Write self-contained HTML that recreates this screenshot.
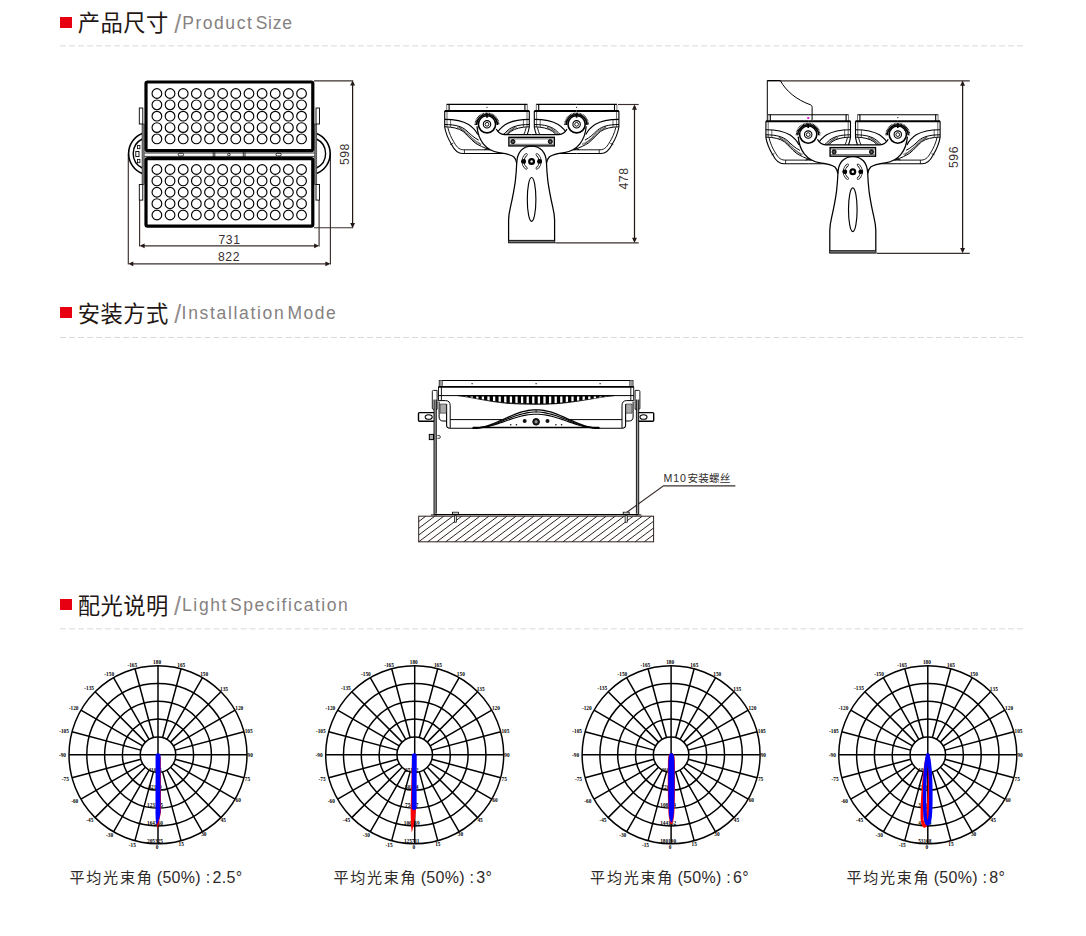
<!DOCTYPE html>
<html lang="zh-CN">
<head>
<meta charset="utf-8">
<title>产品尺寸 / 安装方式 / 配光说明</title>
<style>
html,body{margin:0;padding:0;background:#fff;}
body{width:1086px;height:936px;position:relative;overflow:hidden;font-family:"Liberation Sans","Noto Sans CJK SC",sans-serif;}
.sec{position:absolute;left:0;width:1086px;}
.sec h2{position:absolute;left:0;top:0;margin:0;font-weight:400;white-space:nowrap;line-height:1;width:400px;height:40px;}
.sec h2 span{position:absolute;white-space:nowrap;line-height:1;}
.sq{left:60.2px;width:11.9px;height:11.2px;background:#e60012;}
.cn{left:77.7px;font-size:22.3px;letter-spacing:0.5px;color:#1f1714;}
.en{font-size:17.5px;color:#858180;}
.sec h2 span.sl{font-size:25px;color:#928e8d;}
svg{position:absolute;left:0;overflow:visible;}
.dim{font-family:"Liberation Sans",sans-serif;font-size:12.2px;fill:#3b302f;letter-spacing:0.5px;}
.cap{font-family:"Liberation Sans","Noto Sans CJK SC",sans-serif;font-size:16px;fill:#2e2a29;}
.lbl{font-family:"Liberation Sans","Noto Sans CJK SC",sans-serif;font-size:10.6px;fill:#2e2a29;}
.pl{font-family:"Liberation Serif",serif;font-weight:700;font-size:5.3px;fill:#000;text-anchor:middle;}
</style>
</head>
<body>
<section class="sec" style="top:0;height:290px">
<h2><span class="sq" style="top:16.5px"></span><span class="cn" style="top:12.9px">产品尺寸</span><span class="en sl" style="left:174.2px;top:11.9px">/</span><span class="en" style="left:182.2px;top:14.7px;letter-spacing:1.55px">Product </span><span class="en" style="left:255.7px;top:14.7px;letter-spacing:0.73px">Size</span></h2>
<svg style="top:0" width="1086" height="290" viewBox="0 0 1086 290" fill="none" stroke="#000" stroke-width="1">
<line x1="60" y1="45.85" x2="1024" y2="45.85" stroke="#d9d9d9" stroke-width="1" stroke-dasharray="6 3.03"/>
<g id="front-view">
<line x1="128.3" y1="154" x2="128.3" y2="264.4" stroke="#3a2f2d" stroke-width="1.15"/>
<line x1="330.4" y1="154" x2="330.4" y2="264.4" stroke="#3a2f2d" stroke-width="1.15"/>
<line x1="139.6" y1="200" x2="139.6" y2="246.4" stroke="#3a2f2d" stroke-width="1.15"/>
<line x1="319.1" y1="200" x2="319.1" y2="246.4" stroke="#3a2f2d" stroke-width="1.15"/>
<line x1="314" y1="80.85" x2="353.2" y2="80.85" stroke="#3a2f2d" stroke-width="1.15"/>
<line x1="314" y1="227.7" x2="353.2" y2="227.7" stroke="#3a2f2d" stroke-width="1.15"/>
<line x1="141.6" y1="245.8" x2="317.1" y2="245.8" stroke="#3a2f2d" stroke-width="1.2"/>
<polygon points="139.6,245.8 144.6,243.4 144.6,248.2" fill="#231815" stroke="none"/>
<polygon points="319.1,245.8 314.1,243.4 314.1,248.2" fill="#231815" stroke="none"/>
<line x1="130.3" y1="263.8" x2="328.4" y2="263.8" stroke="#3a2f2d" stroke-width="1.2"/>
<polygon points="128.3,263.8 133.3,261.4 133.3,266.2" fill="#231815" stroke="none"/>
<polygon points="330.4,263.8 325.4,261.4 325.4,266.2" fill="#231815" stroke="none"/>
<line x1="352.6" y1="82.4" x2="352.6" y2="226.2" stroke="#231815" stroke-width="1.25"/>
<polygon points="352.6,80.4 350.15,85.6 355.05,85.6" fill="#231815" stroke="none"/>
<polygon points="352.6,228.2 350.15,223 355.05,223" fill="#231815" stroke="none"/>
<text class="dim" stroke="none" text-anchor="middle" x="229.5" y="243.8">731</text>
<text class="dim" stroke="none" text-anchor="middle" x="229" y="260.9">822</text>
<text class="dim" stroke="none" text-anchor="middle" transform="translate(349.1 154.1) rotate(-90)">598</text>
<path d="M142.3,133.5 A21.45,21.45 0 0 0 142.3,173.5" stroke="#000" stroke-width="1.6"/>
<path d="M142.3,139 A16.1,16.1 0 0 0 142.3,168" stroke="#000" stroke-width="1.4"/>
<rect x="135.8" y="151.5" width="3.2" height="5" stroke-width="0.9"/>
<rect x="137.5" y="145.5" width="2.4" height="3.2" stroke-width="0.8"/>
<rect x="137.5" y="159.5" width="2.4" height="3.2" stroke-width="0.8"/>
<rect x="142" y="124" width="2.2" height="60.5" fill="#777" stroke="#222" stroke-width="0.5"/>
<rect x="139.3" y="108" width="3.5" height="16" fill="#fff" stroke-width="0.9"/>
<rect x="139.3" y="184.5" width="3.5" height="15.6" fill="#fff" stroke-width="0.9"/>
<path d="M316.5,133.5 A21.45,21.45 0 0 1 316.5,173.5" stroke="#000" stroke-width="1.6"/>
<path d="M316.5,139 A16.1,16.1 0 0 1 316.5,168" stroke="#000" stroke-width="1.4"/>
<rect x="314.6" y="124" width="2.2" height="60.5" fill="#777" stroke="#222" stroke-width="0.5"/>
<rect x="316" y="108" width="3.5" height="16" fill="#fff" stroke-width="0.9"/>
<rect x="316" y="184.5" width="3.5" height="15.6" fill="#fff" stroke-width="0.9"/>
<g stroke-width="0.8">
<rect x="178.3" y="153.2" width="5.2" height="2.8" rx="1.2"/>
<rect x="276" y="153.2" width="5.2" height="2.8" rx="1.2"/>
<path d="M213.2,152.3V157.1M214.8,152.3V157.1M243.3,152.3V157.1M245,152.3V157.1M144.4,153H314.4M144.4,156.4H314.4"/>
<circle cx="228.9" cy="154.6" r="1.3"/>
</g>
<rect x="146" y="82" width="166.8" height="68.7" rx="1.6" fill="#fff" stroke="#000" stroke-width="3.2"/>
<rect x="146" y="158.7" width="166.8" height="67.4" rx="1.6" fill="#fff" stroke="#000" stroke-width="3.2"/>
<g stroke="#000" stroke-width="1.15">
<circle cx="156.9" cy="93.5" r="4.85"/><circle cx="170.05" cy="93.5" r="4.85"/><circle cx="183.2" cy="93.5" r="4.85"/><circle cx="196.35" cy="93.5" r="4.85"/><circle cx="209.5" cy="93.5" r="4.85"/><circle cx="222.65" cy="93.5" r="4.85"/><circle cx="235.8" cy="93.5" r="4.85"/><circle cx="248.95" cy="93.5" r="4.85"/><circle cx="262.1" cy="93.5" r="4.85"/><circle cx="275.25" cy="93.5" r="4.85"/><circle cx="288.4" cy="93.5" r="4.85"/><circle cx="301.55" cy="93.5" r="4.85"/>
<circle cx="156.9" cy="104.85" r="4.85"/><circle cx="170.05" cy="104.85" r="4.85"/><circle cx="183.2" cy="104.85" r="4.85"/><circle cx="196.35" cy="104.85" r="4.85"/><circle cx="209.5" cy="104.85" r="4.85"/><circle cx="222.65" cy="104.85" r="4.85"/><circle cx="235.8" cy="104.85" r="4.85"/><circle cx="248.95" cy="104.85" r="4.85"/><circle cx="262.1" cy="104.85" r="4.85"/><circle cx="275.25" cy="104.85" r="4.85"/><circle cx="288.4" cy="104.85" r="4.85"/><circle cx="301.55" cy="104.85" r="4.85"/>
<circle cx="156.9" cy="116.2" r="4.85"/><circle cx="170.05" cy="116.2" r="4.85"/><circle cx="183.2" cy="116.2" r="4.85"/><circle cx="196.35" cy="116.2" r="4.85"/><circle cx="209.5" cy="116.2" r="4.85"/><circle cx="222.65" cy="116.2" r="4.85"/><circle cx="235.8" cy="116.2" r="4.85"/><circle cx="248.95" cy="116.2" r="4.85"/><circle cx="262.1" cy="116.2" r="4.85"/><circle cx="275.25" cy="116.2" r="4.85"/><circle cx="288.4" cy="116.2" r="4.85"/><circle cx="301.55" cy="116.2" r="4.85"/>
<circle cx="156.9" cy="127.55" r="4.85"/><circle cx="170.05" cy="127.55" r="4.85"/><circle cx="183.2" cy="127.55" r="4.85"/><circle cx="196.35" cy="127.55" r="4.85"/><circle cx="209.5" cy="127.55" r="4.85"/><circle cx="222.65" cy="127.55" r="4.85"/><circle cx="235.8" cy="127.55" r="4.85"/><circle cx="248.95" cy="127.55" r="4.85"/><circle cx="262.1" cy="127.55" r="4.85"/><circle cx="275.25" cy="127.55" r="4.85"/><circle cx="288.4" cy="127.55" r="4.85"/><circle cx="301.55" cy="127.55" r="4.85"/>
<circle cx="156.9" cy="138.9" r="4.85"/><circle cx="170.05" cy="138.9" r="4.85"/><circle cx="183.2" cy="138.9" r="4.85"/><circle cx="196.35" cy="138.9" r="4.85"/><circle cx="209.5" cy="138.9" r="4.85"/><circle cx="222.65" cy="138.9" r="4.85"/><circle cx="235.8" cy="138.9" r="4.85"/><circle cx="248.95" cy="138.9" r="4.85"/><circle cx="262.1" cy="138.9" r="4.85"/><circle cx="275.25" cy="138.9" r="4.85"/><circle cx="288.4" cy="138.9" r="4.85"/><circle cx="301.55" cy="138.9" r="4.85"/>
<circle cx="156.9" cy="169.5" r="4.85"/><circle cx="170.05" cy="169.5" r="4.85"/><circle cx="183.2" cy="169.5" r="4.85"/><circle cx="196.35" cy="169.5" r="4.85"/><circle cx="209.5" cy="169.5" r="4.85"/><circle cx="222.65" cy="169.5" r="4.85"/><circle cx="235.8" cy="169.5" r="4.85"/><circle cx="248.95" cy="169.5" r="4.85"/><circle cx="262.1" cy="169.5" r="4.85"/><circle cx="275.25" cy="169.5" r="4.85"/><circle cx="288.4" cy="169.5" r="4.85"/><circle cx="301.55" cy="169.5" r="4.85"/>
<circle cx="156.9" cy="180.88" r="4.85"/><circle cx="170.05" cy="180.88" r="4.85"/><circle cx="183.2" cy="180.88" r="4.85"/><circle cx="196.35" cy="180.88" r="4.85"/><circle cx="209.5" cy="180.88" r="4.85"/><circle cx="222.65" cy="180.88" r="4.85"/><circle cx="235.8" cy="180.88" r="4.85"/><circle cx="248.95" cy="180.88" r="4.85"/><circle cx="262.1" cy="180.88" r="4.85"/><circle cx="275.25" cy="180.88" r="4.85"/><circle cx="288.4" cy="180.88" r="4.85"/><circle cx="301.55" cy="180.88" r="4.85"/>
<circle cx="156.9" cy="192.26" r="4.85"/><circle cx="170.05" cy="192.26" r="4.85"/><circle cx="183.2" cy="192.26" r="4.85"/><circle cx="196.35" cy="192.26" r="4.85"/><circle cx="209.5" cy="192.26" r="4.85"/><circle cx="222.65" cy="192.26" r="4.85"/><circle cx="235.8" cy="192.26" r="4.85"/><circle cx="248.95" cy="192.26" r="4.85"/><circle cx="262.1" cy="192.26" r="4.85"/><circle cx="275.25" cy="192.26" r="4.85"/><circle cx="288.4" cy="192.26" r="4.85"/><circle cx="301.55" cy="192.26" r="4.85"/>
<circle cx="156.9" cy="203.64" r="4.85"/><circle cx="170.05" cy="203.64" r="4.85"/><circle cx="183.2" cy="203.64" r="4.85"/><circle cx="196.35" cy="203.64" r="4.85"/><circle cx="209.5" cy="203.64" r="4.85"/><circle cx="222.65" cy="203.64" r="4.85"/><circle cx="235.8" cy="203.64" r="4.85"/><circle cx="248.95" cy="203.64" r="4.85"/><circle cx="262.1" cy="203.64" r="4.85"/><circle cx="275.25" cy="203.64" r="4.85"/><circle cx="288.4" cy="203.64" r="4.85"/><circle cx="301.55" cy="203.64" r="4.85"/>
<circle cx="156.9" cy="215.02" r="4.85"/><circle cx="170.05" cy="215.02" r="4.85"/><circle cx="183.2" cy="215.02" r="4.85"/><circle cx="196.35" cy="215.02" r="4.85"/><circle cx="209.5" cy="215.02" r="4.85"/><circle cx="222.65" cy="215.02" r="4.85"/><circle cx="235.8" cy="215.02" r="4.85"/><circle cx="248.95" cy="215.02" r="4.85"/><circle cx="262.1" cy="215.02" r="4.85"/><circle cx="275.25" cy="215.02" r="4.85"/><circle cx="288.4" cy="215.02" r="4.85"/><circle cx="301.55" cy="215.02" r="4.85"/>
</g>
</g>
<g id="side-view">
<line x1="618" y1="104.5" x2="638.7" y2="104.5" stroke="#3a2f2d" stroke-width="1.15"/>
<line x1="555.4" y1="242.9" x2="638.7" y2="242.9" stroke="#3a2f2d" stroke-width="1.15"/>
<line x1="634.5" y1="106.5" x2="634.5" y2="240.9" stroke="#231815" stroke-width="1.25"/>
<polygon points="634.5,104.5 632.05,109.7 636.95,109.7" fill="#231815" stroke="none"/>
<polygon points="634.5,242.9 632.05,237.7 636.95,237.7" fill="#231815" stroke="none"/>
<text class="dim" stroke="none" text-anchor="middle" transform="translate(627.8 178.5) rotate(-90)">478</text>
<g transform="translate(0 0)">
<path d="M576.6,104.4H617" stroke-width="1.1"/>
<path d="M614.5,104.2V110.9" stroke-width="1.1"/>
<path d="M616.9,104.4V110.9" stroke-width="0.8" stroke="#555"/>
<path d="M576.6,110.9H618.9" stroke-width="2"/>
<path d="M618.9,110.9V127C617.8,134 614.5,140.5 611.8,145C609,150.5 606,153.5 601,153.5H576.6" stroke-width="1.1"/>
<path d="M616.6,110.9V127" stroke-width="0.6"/>
<path d="M615.8,127.5C614.5,133 612,138.5 610,141.5C607.5,146 605,149.8 600,149.8H576.6" stroke-width="0.9"/>
<path d="M599.2,149.8V153.5M610.4,143.4L613.3,144.5" stroke-width="0.8"/>
<path d="M618.9,119.4C608,119.4 600.5,121.2 595,124.5C590.8,127.3 587.6,131 585.8,134.6" stroke-width="1.1"/>
<path d="M618.9,124.5C608,124.6 602.3,126.4 597.7,130C594,133.5 590,137.6 584.9,140.1" stroke-width="1"/>
<path d="M618.9,126.8C611,127 605.1,128.3 600.5,131.4C596.8,134.5 593.1,139.2 588.5,142.9C585,145.3 580,147.5 574,149.8" stroke-width="1"/>
<path d="M606,127.2C601,128.8 597.5,132.3 594.8,135.3C591.5,139 588,142 582.5,144.3" stroke-width="1.9" stroke="#222" stroke-dasharray="0.75 0.55"/>
<path d="M613,119.4V127" stroke-width="0.6"/>
<path d="M576.6,104.4H536.2" stroke-width="1.1"/>
<path d="M538.7,104.2V110.9" stroke-width="1.1"/>
<path d="M536.3,104.4V110.9" stroke-width="0.8" stroke="#555"/>
<path d="M576.6,110.9H534.3" stroke-width="2"/>
<path d="M534.3,110.9V127C535.4,134 538.7,140.5 541.4,145C544.2,150.5 547.2,153.5 552.2,153.5H576.6" stroke-width="1.1"/>
<path d="M536.6,110.9V127" stroke-width="0.6"/>
<path d="M537.4,127.5C538.7,133 541.2,138.5 543.2,141.5C545.7,146 548.2,149.8 553.2,149.8H576.6" stroke-width="0.9"/>
<path d="M554,149.8V153.5M542.8,143.4L539.9,144.5" stroke-width="0.8"/>
<path d="M534.3,119.4C545.2,119.4 552.7,121.2 558.2,124.5C562.4,127.3 565.6,131 567.4,134.6" stroke-width="1.1"/>
<path d="M534.3,124.5C545.2,124.6 550.9,126.4 555.5,130C559.2,133.5 563.2,137.6 568.3,140.1" stroke-width="1"/>
<path d="M534.3,126.8C542.2,127 548.1,128.3 552.7,131.4C556.4,134.5 560.1,139.2 564.7,142.9C568.2,145.3 573.2,147.5 579.2,149.8" stroke-width="1"/>
<path d="M547.2,127.2C552.2,128.8 555.7,132.3 558.4,135.3C561.7,139 565.2,142 570.7,144.3" stroke-width="1.9" stroke="#222" stroke-dasharray="0.75 0.55"/>
<path d="M540.2,119.4V127" stroke-width="0.6"/>
<circle cx="576.6" cy="107.3" r="0.6" fill="#000" stroke="none"/>
<path d="M487,104.4H527.4" stroke-width="1.1"/>
<path d="M524.9,104.2V110.9" stroke-width="1.1"/>
<path d="M527.3,104.4V110.9" stroke-width="0.8" stroke="#555"/>
<path d="M487,110.9H529.3" stroke-width="2"/>
<path d="M529.3,110.9V127C528.2,134 524.9,140.5 522.2,145C519.4,150.5 516.4,153.5 511.4,153.5H487" stroke-width="1.1"/>
<path d="M527,110.9V127" stroke-width="0.6"/>
<path d="M526.2,127.5C524.9,133 522.4,138.5 520.4,141.5C517.9,146 515.4,149.8 510.4,149.8H487" stroke-width="0.9"/>
<path d="M509.6,149.8V153.5M520.8,143.4L523.7,144.5" stroke-width="0.8"/>
<path d="M529.3,119.4C518.4,119.4 510.9,121.2 505.4,124.5C501.2,127.3 498,131 496.2,134.6" stroke-width="1.1"/>
<path d="M529.3,124.5C518.4,124.6 512.7,126.4 508.1,130C504.4,133.5 500.4,137.6 495.3,140.1" stroke-width="1"/>
<path d="M529.3,126.8C521.4,127 515.5,128.3 510.9,131.4C507.2,134.5 503.5,139.2 498.9,142.9C495.4,145.3 490.4,147.5 484.4,149.8" stroke-width="1"/>
<path d="M516.4,127.2C511.4,128.8 507.9,132.3 505.2,135.3C501.9,139 498.4,142 492.9,144.3" stroke-width="1.9" stroke="#222" stroke-dasharray="0.75 0.55"/>
<path d="M523.4,119.4V127" stroke-width="0.6"/>
<path d="M487,104.4H446.6" stroke-width="1.1"/>
<path d="M449.1,104.2V110.9" stroke-width="1.1"/>
<path d="M446.7,104.4V110.9" stroke-width="0.8" stroke="#555"/>
<path d="M487,110.9H444.7" stroke-width="2"/>
<path d="M444.7,110.9V127C445.8,134 449.1,140.5 451.8,145C454.6,150.5 457.6,153.5 462.6,153.5H487" stroke-width="1.1"/>
<path d="M447,110.9V127" stroke-width="0.6"/>
<path d="M447.8,127.5C449.1,133 451.6,138.5 453.6,141.5C456.1,146 458.6,149.8 463.6,149.8H487" stroke-width="0.9"/>
<path d="M464.4,149.8V153.5M453.2,143.4L450.3,144.5" stroke-width="0.8"/>
<path d="M444.7,119.4C455.6,119.4 463.1,121.2 468.6,124.5C472.8,127.3 476,131 477.8,134.6" stroke-width="1.1"/>
<path d="M444.7,124.5C455.6,124.6 461.3,126.4 465.9,130C469.6,133.5 473.6,137.6 478.7,140.1" stroke-width="1"/>
<path d="M444.7,126.8C452.6,127 458.5,128.3 463.1,131.4C466.8,134.5 470.5,139.2 475.1,142.9C478.6,145.3 483.6,147.5 489.6,149.8" stroke-width="1"/>
<path d="M457.6,127.2C462.6,128.8 466.1,132.3 468.8,135.3C472.1,139 475.6,142 481.1,144.3" stroke-width="1.9" stroke="#222" stroke-dasharray="0.75 0.55"/>
<path d="M450.6,119.4V127" stroke-width="0.6"/>
<circle cx="487" cy="107.3" r="0.6" fill="#000" stroke="none"/>
<path d="M487,124.3L477,126.3C477.5,133 479.5,139 483.3,143.8C487,148.5 492,151.5 498.9,152.6C506,153.5 510,154 513.7,156.7C515.5,158.5 516.5,160.5 516.7,163.3C516.4,172 515.8,177 515.3,181.3C514.5,187 512.5,198 510.5,206.9C509.4,211.5 508.6,215 508.6,220V242.8H531.6V134.6H504.5C500.8,134.3 497.8,132 496.2,129Z" stroke-width="0" fill="#fff" stroke="none"/>
<path d="M576.2,124.3L586.2,126.3C585.7,133 583.7,139 579.9,143.8C576.2,148.5 571.2,151.5 564.3,152.6C557.2,153.5 553.2,154 549.5,156.7C547.7,158.5 546.7,160.5 546.5,163.3C546.8,172 547.4,177 547.9,181.3C548.7,187 550.7,198 552.7,206.9C553.8,211.5 554.6,215 554.6,220V242.8H531.6V134.6H558.7C562.4,134.3 565.4,132 567,129Z" stroke-width="0" fill="#fff" stroke="none"/>
<path d="M477,126.3C477.5,133 479.5,139 483.3,143.8C487,148.5 492,151.5 498.9,152.6C506,153.5 510,154 513.7,156.7C515.5,158.5 516.5,160.5 516.7,163.3C516.4,172 515.8,177 515.3,181.3C514.5,187 512.5,198 510.5,206.9C509.4,211.5 508.6,215 508.6,220V242.8" stroke-width="1.25"/>
<path d="M496.2,129C497.8,132 500.8,134.3 504.5,134.6H531.6" stroke-width="1.25"/>
<path d="M586.2,126.3C585.7,133 583.7,139 579.9,143.8C576.2,148.5 571.2,151.5 564.3,152.6C557.2,153.5 553.2,154 549.5,156.7C547.7,158.5 546.7,160.5 546.5,163.3C546.8,172 547.4,177 547.9,181.3C548.7,187 550.7,198 552.7,206.9C553.8,211.5 554.6,215 554.6,220V242.8" stroke-width="1.25"/>
<path d="M567,129C565.4,132 562.4,134.3 558.7,134.6H531.6" stroke-width="1.25"/>
<rect x="508.6" y="240.4" width="46" height="2.4" fill="#777" stroke="none"/>
<path d="M508.6,240.4H554.6M508.1,242.8H555.1" stroke-width="0.9"/>
<circle cx="576.6" cy="124.3" r="8.6" fill="#fff" stroke="#000" stroke-width="1.6"/>
<circle cx="576.6" cy="124.3" r="3.7" stroke="#000" stroke-width="1.1"/>
<circle cx="576.6" cy="124.3" r="1.9" stroke="#000" stroke-width="0.9"/>
<path d="M566.2,124.9 A10.4,10.4 0 0 1 587,124.9" stroke="#000" stroke-width="1.5"/>
<path d="M564.9,124.9 A11.7,11.7 0 0 1 588.3,124.9" stroke="#000" stroke-width="1.5" stroke-dasharray="0.85 0.6"/>
<path d="M576.6,113.3V117.7" stroke="#000" stroke-width="1.7"/>
<circle cx="487" cy="124.3" r="8.6" fill="#fff" stroke="#000" stroke-width="1.6"/>
<circle cx="487" cy="124.3" r="3.7" stroke="#000" stroke-width="1.1"/>
<circle cx="487" cy="124.3" r="1.9" stroke="#000" stroke-width="0.9"/>
<path d="M476.6,124.9 A10.4,10.4 0 0 1 497.4,124.9" stroke="#000" stroke-width="1.5"/>
<path d="M475.3,124.9 A11.7,11.7 0 0 1 498.7,124.9" stroke="#000" stroke-width="1.5" stroke-dasharray="0.85 0.6"/>
<path d="M487,113.3V117.7" stroke="#000" stroke-width="1.7"/>
<rect x="508.9" y="137.3" width="45.4" height="8.6" fill="#fff" stroke-width="1.4"/>
<path d="M510,138.9H553.2M510,144.3H553.2" stroke-width="0.6"/>
<circle cx="512.9" cy="141.6" r="2.1" fill="#333" stroke-width="0.9"/>
<circle cx="512.9" cy="141.6" r="0.7" fill="#888" stroke="none"/>
<circle cx="550.3" cy="141.6" r="2.1" fill="#333" stroke-width="0.9"/>
<circle cx="550.3" cy="141.6" r="0.7" fill="#888" stroke="none"/>
<path d="M516.7,163.3C517,152.5 522.5,146.2 531.6,146.2C540.7,146.2 546.2,152.5 546.5,163.3" stroke-width="1.25"/>
<circle cx="531.6" cy="161.4" r="2.35" stroke="#000" stroke-width="2.3" fill="#fff"/>
<circle cx="523.6" cy="161.4" r="2.3" fill="#000" stroke="none"/>
<path d="M526.31,154.62A8.6,8.6 0 0 0 526.31,168.18" stroke-width="2.6" stroke-linecap="round"/>
<path d="M526.31,154.62A8.6,8.6 0 0 0 526.31,168.18" stroke="#fff" stroke-width="1.3" stroke-linecap="round"/>
<circle cx="523.6" cy="161.4" r="2.3" fill="#000" stroke="none"/>
<circle cx="539.6" cy="161.4" r="2.3" fill="#000" stroke="none"/>
<path d="M536.89,154.62A8.6,8.6 0 0 1 536.89,168.18" stroke-width="2.6" stroke-linecap="round"/>
<path d="M536.89,154.62A8.6,8.6 0 0 1 536.89,168.18" stroke="#fff" stroke-width="1.3" stroke-linecap="round"/>
<circle cx="539.6" cy="161.4" r="2.3" fill="#000" stroke="none"/>
<ellipse cx="531.6" cy="199.4" rx="4.3" ry="21.9" stroke-width="1.15"/>
</g>
</g>
<g id="side-view-visor">
<line x1="767.3" y1="80.85" x2="969.8" y2="80.85" stroke="#3a2f2d" stroke-width="1.15"/>
<line x1="876.8" y1="253.3" x2="969.8" y2="253.3" stroke="#3a2f2d" stroke-width="1.15"/>
<line x1="962.6" y1="82.6" x2="962.6" y2="251.3" stroke="#231815" stroke-width="1.25"/>
<polygon points="962.6,80.6 960.15,85.8 965.05,85.8" fill="#231815" stroke="none"/>
<polygon points="962.6,253.3 960.15,248.1 965.05,248.1" fill="#231815" stroke="none"/>
<text class="dim" stroke="none" text-anchor="middle" transform="translate(957.6 157) rotate(-90)">596</text>
<g transform="translate(321.2 10.3)">
<path d="M446.1,110.7V70.2H459.1C464.8,80.7 474.8,89.2 489,94.4C490.6,95 490.9,95.7 490.9,97.3V109.7" stroke-width="1"/>
<path d="M576.6,104.4H617" stroke-width="1.1"/>
<path d="M614.5,104.2V110.9" stroke-width="1.1"/>
<path d="M616.9,104.4V110.9" stroke-width="0.8" stroke="#555"/>
<path d="M576.6,110.9H618.9" stroke-width="2"/>
<path d="M618.9,110.9V127C617.8,134 614.5,140.5 611.8,145C609,150.5 606,153.5 601,153.5H576.6" stroke-width="1.1"/>
<path d="M616.6,110.9V127" stroke-width="0.6"/>
<path d="M615.8,127.5C614.5,133 612,138.5 610,141.5C607.5,146 605,149.8 600,149.8H576.6" stroke-width="0.9"/>
<path d="M599.2,149.8V153.5M610.4,143.4L613.3,144.5" stroke-width="0.8"/>
<path d="M618.9,119.4C608,119.4 600.5,121.2 595,124.5C590.8,127.3 587.6,131 585.8,134.6" stroke-width="1.1"/>
<path d="M618.9,124.5C608,124.6 602.3,126.4 597.7,130C594,133.5 590,137.6 584.9,140.1" stroke-width="1"/>
<path d="M618.9,126.8C611,127 605.1,128.3 600.5,131.4C596.8,134.5 593.1,139.2 588.5,142.9C585,145.3 580,147.5 574,149.8" stroke-width="1"/>
<path d="M606,127.2C601,128.8 597.5,132.3 594.8,135.3C591.5,139 588,142 582.5,144.3" stroke-width="1.9" stroke="#222" stroke-dasharray="0.75 0.55"/>
<path d="M613,119.4V127" stroke-width="0.6"/>
<path d="M576.6,104.4H536.2" stroke-width="1.1"/>
<path d="M538.7,104.2V110.9" stroke-width="1.1"/>
<path d="M536.3,104.4V110.9" stroke-width="0.8" stroke="#555"/>
<path d="M576.6,110.9H534.3" stroke-width="2"/>
<path d="M534.3,110.9V127C535.4,134 538.7,140.5 541.4,145C544.2,150.5 547.2,153.5 552.2,153.5H576.6" stroke-width="1.1"/>
<path d="M536.6,110.9V127" stroke-width="0.6"/>
<path d="M537.4,127.5C538.7,133 541.2,138.5 543.2,141.5C545.7,146 548.2,149.8 553.2,149.8H576.6" stroke-width="0.9"/>
<path d="M554,149.8V153.5M542.8,143.4L539.9,144.5" stroke-width="0.8"/>
<path d="M534.3,119.4C545.2,119.4 552.7,121.2 558.2,124.5C562.4,127.3 565.6,131 567.4,134.6" stroke-width="1.1"/>
<path d="M534.3,124.5C545.2,124.6 550.9,126.4 555.5,130C559.2,133.5 563.2,137.6 568.3,140.1" stroke-width="1"/>
<path d="M534.3,126.8C542.2,127 548.1,128.3 552.7,131.4C556.4,134.5 560.1,139.2 564.7,142.9C568.2,145.3 573.2,147.5 579.2,149.8" stroke-width="1"/>
<path d="M547.2,127.2C552.2,128.8 555.7,132.3 558.4,135.3C561.7,139 565.2,142 570.7,144.3" stroke-width="1.9" stroke="#222" stroke-dasharray="0.75 0.55"/>
<path d="M540.2,119.4V127" stroke-width="0.6"/>
<circle cx="576.6" cy="107.3" r="0.6" fill="#000" stroke="none"/>
<path d="M487,104.4H527.4" stroke-width="1.1"/>
<path d="M524.9,104.2V110.9" stroke-width="1.1"/>
<path d="M527.3,104.4V110.9" stroke-width="0.8" stroke="#555"/>
<path d="M487,110.9H529.3" stroke-width="2"/>
<path d="M529.3,110.9V127C528.2,134 524.9,140.5 522.2,145C519.4,150.5 516.4,153.5 511.4,153.5H487" stroke-width="1.1"/>
<path d="M527,110.9V127" stroke-width="0.6"/>
<path d="M526.2,127.5C524.9,133 522.4,138.5 520.4,141.5C517.9,146 515.4,149.8 510.4,149.8H487" stroke-width="0.9"/>
<path d="M509.6,149.8V153.5M520.8,143.4L523.7,144.5" stroke-width="0.8"/>
<path d="M529.3,119.4C518.4,119.4 510.9,121.2 505.4,124.5C501.2,127.3 498,131 496.2,134.6" stroke-width="1.1"/>
<path d="M529.3,124.5C518.4,124.6 512.7,126.4 508.1,130C504.4,133.5 500.4,137.6 495.3,140.1" stroke-width="1"/>
<path d="M529.3,126.8C521.4,127 515.5,128.3 510.9,131.4C507.2,134.5 503.5,139.2 498.9,142.9C495.4,145.3 490.4,147.5 484.4,149.8" stroke-width="1"/>
<path d="M516.4,127.2C511.4,128.8 507.9,132.3 505.2,135.3C501.9,139 498.4,142 492.9,144.3" stroke-width="1.9" stroke="#222" stroke-dasharray="0.75 0.55"/>
<path d="M523.4,119.4V127" stroke-width="0.6"/>
<path d="M487,104.4H446.6" stroke-width="1.1"/>
<path d="M449.1,104.2V110.9" stroke-width="1.1"/>
<path d="M446.7,104.4V110.9" stroke-width="0.8" stroke="#555"/>
<path d="M487,110.9H444.7" stroke-width="2"/>
<path d="M444.7,110.9V127C445.8,134 449.1,140.5 451.8,145C454.6,150.5 457.6,153.5 462.6,153.5H487" stroke-width="1.1"/>
<path d="M447,110.9V127" stroke-width="0.6"/>
<path d="M447.8,127.5C449.1,133 451.6,138.5 453.6,141.5C456.1,146 458.6,149.8 463.6,149.8H487" stroke-width="0.9"/>
<path d="M464.4,149.8V153.5M453.2,143.4L450.3,144.5" stroke-width="0.8"/>
<path d="M444.7,119.4C455.6,119.4 463.1,121.2 468.6,124.5C472.8,127.3 476,131 477.8,134.6" stroke-width="1.1"/>
<path d="M444.7,124.5C455.6,124.6 461.3,126.4 465.9,130C469.6,133.5 473.6,137.6 478.7,140.1" stroke-width="1"/>
<path d="M444.7,126.8C452.6,127 458.5,128.3 463.1,131.4C466.8,134.5 470.5,139.2 475.1,142.9C478.6,145.3 483.6,147.5 489.6,149.8" stroke-width="1"/>
<path d="M457.6,127.2C462.6,128.8 466.1,132.3 468.8,135.3C472.1,139 475.6,142 481.1,144.3" stroke-width="1.9" stroke="#222" stroke-dasharray="0.75 0.55"/>
<path d="M450.6,119.4V127" stroke-width="0.6"/>
<rect x="486.1" y="106.8" width="1.9" height="1.9" fill="#e400e4" stroke="none"/>
<path d="M487,124.3L477,126.3C477.5,133 479.5,139 483.3,143.8C487,148.5 492,151.5 498.9,152.6C506,153.5 510,154 513.7,156.7C515.5,158.5 516.5,160.5 516.7,163.3C516.4,172 515.8,177 515.3,181.3C514.5,187 512.5,198 510.5,206.9C509.4,211.5 508.6,215 508.6,220V242.8H531.6V134.6H504.5C500.8,134.3 497.8,132 496.2,129Z" stroke-width="0" fill="#fff" stroke="none"/>
<path d="M576.2,124.3L586.2,126.3C585.7,133 583.7,139 579.9,143.8C576.2,148.5 571.2,151.5 564.3,152.6C557.2,153.5 553.2,154 549.5,156.7C547.7,158.5 546.7,160.5 546.5,163.3C546.8,172 547.4,177 547.9,181.3C548.7,187 550.7,198 552.7,206.9C553.8,211.5 554.6,215 554.6,220V242.8H531.6V134.6H558.7C562.4,134.3 565.4,132 567,129Z" stroke-width="0" fill="#fff" stroke="none"/>
<path d="M477,126.3C477.5,133 479.5,139 483.3,143.8C487,148.5 492,151.5 498.9,152.6C506,153.5 510,154 513.7,156.7C515.5,158.5 516.5,160.5 516.7,163.3C516.4,172 515.8,177 515.3,181.3C514.5,187 512.5,198 510.5,206.9C509.4,211.5 508.6,215 508.6,220V242.8" stroke-width="1.25"/>
<path d="M496.2,129C497.8,132 500.8,134.3 504.5,134.6H531.6" stroke-width="1.25"/>
<path d="M586.2,126.3C585.7,133 583.7,139 579.9,143.8C576.2,148.5 571.2,151.5 564.3,152.6C557.2,153.5 553.2,154 549.5,156.7C547.7,158.5 546.7,160.5 546.5,163.3C546.8,172 547.4,177 547.9,181.3C548.7,187 550.7,198 552.7,206.9C553.8,211.5 554.6,215 554.6,220V242.8" stroke-width="1.25"/>
<path d="M567,129C565.4,132 562.4,134.3 558.7,134.6H531.6" stroke-width="1.25"/>
<rect x="508.6" y="240.4" width="46" height="2.4" fill="#777" stroke="none"/>
<path d="M508.6,240.4H554.6M508.1,242.8H555.1" stroke-width="0.9"/>
<circle cx="576.6" cy="124.3" r="8.6" fill="#fff" stroke="#000" stroke-width="1.6"/>
<circle cx="576.6" cy="124.3" r="3.7" stroke="#000" stroke-width="1.1"/>
<circle cx="576.6" cy="124.3" r="1.9" stroke="#000" stroke-width="0.9"/>
<path d="M566.2,124.9 A10.4,10.4 0 0 1 587,124.9" stroke="#000" stroke-width="1.5"/>
<path d="M564.9,124.9 A11.7,11.7 0 0 1 588.3,124.9" stroke="#000" stroke-width="1.5" stroke-dasharray="0.85 0.6"/>
<path d="M576.6,113.3V117.7" stroke="#000" stroke-width="1.7"/>
<circle cx="487" cy="124.3" r="8.6" fill="#fff" stroke="#000" stroke-width="1.6"/>
<circle cx="487" cy="124.3" r="3.7" stroke="#000" stroke-width="1.1"/>
<circle cx="487" cy="124.3" r="1.9" stroke="#000" stroke-width="0.9"/>
<path d="M476.6,124.9 A10.4,10.4 0 0 1 497.4,124.9" stroke="#000" stroke-width="1.5"/>
<path d="M475.3,124.9 A11.7,11.7 0 0 1 498.7,124.9" stroke="#000" stroke-width="1.5" stroke-dasharray="0.85 0.6"/>
<path d="M487,113.3V117.7" stroke="#000" stroke-width="1.7"/>
<rect x="508.9" y="137.3" width="45.4" height="8.6" fill="#fff" stroke-width="1.4"/>
<path d="M510,138.9H553.2M510,144.3H553.2" stroke-width="0.6"/>
<circle cx="512.9" cy="141.6" r="2.1" fill="#333" stroke-width="0.9"/>
<circle cx="512.9" cy="141.6" r="0.7" fill="#888" stroke="none"/>
<circle cx="550.3" cy="141.6" r="2.1" fill="#333" stroke-width="0.9"/>
<circle cx="550.3" cy="141.6" r="0.7" fill="#888" stroke="none"/>
<path d="M516.7,163.3C517,152.5 522.5,146.2 531.6,146.2C540.7,146.2 546.2,152.5 546.5,163.3" stroke-width="1.25"/>
<circle cx="531.6" cy="161.4" r="2.35" stroke="#000" stroke-width="2.3" fill="#fff"/>
<circle cx="523.6" cy="161.4" r="2.3" fill="#000" stroke="none"/>
<path d="M526.31,154.62A8.6,8.6 0 0 0 526.31,168.18" stroke-width="2.6" stroke-linecap="round"/>
<path d="M526.31,154.62A8.6,8.6 0 0 0 526.31,168.18" stroke="#fff" stroke-width="1.3" stroke-linecap="round"/>
<circle cx="523.6" cy="161.4" r="2.3" fill="#000" stroke="none"/>
<circle cx="539.6" cy="161.4" r="2.3" fill="#000" stroke="none"/>
<path d="M536.89,154.62A8.6,8.6 0 0 1 536.89,168.18" stroke-width="2.6" stroke-linecap="round"/>
<path d="M536.89,154.62A8.6,8.6 0 0 1 536.89,168.18" stroke="#fff" stroke-width="1.3" stroke-linecap="round"/>
<circle cx="539.6" cy="161.4" r="2.3" fill="#000" stroke="none"/>
<ellipse cx="531.6" cy="199.4" rx="4.3" ry="21.9" stroke-width="1.15"/>
</g>
</g>
</svg>
</section>
<section class="sec" style="top:290px;height:290px">
<h2><span class="sq" style="top:17.2px"></span><span class="cn" style="top:14.2px">安装方式</span><span class="en sl" style="left:174.2px;top:12.2px">/</span><span class="en" style="left:181.6px;top:15px;letter-spacing:1.68px">Installation </span><span class="en" style="left:287.5px;top:15px;letter-spacing:1.47px">Mode</span></h2>
<svg style="top:0" width="1086" height="290" viewBox="0 290 1086 290" fill="none" stroke="#000" stroke-width="1">
<line x1="60" y1="337.46" x2="1024" y2="337.46" stroke="#d9d9d9" stroke-width="1" stroke-dasharray="6 3.03"/>
<g id="install-view">
<g stroke="#2e2220" stroke-width="1">
<path d="M418.7,521.5L425.77,516.2M418.7,528.27L434.79,516.2M418.7,535.03L443.81,516.2M418.7,541.8L452.83,516.2M427.72,541.8L461.85,516.2M436.74,541.8L470.87,516.2M445.76,541.8L479.89,516.2M454.78,541.8L488.91,516.2M463.8,541.8L497.93,516.2M472.82,541.8L506.95,516.2M481.84,541.8L515.97,516.2M490.86,541.8L524.99,516.2M499.88,541.8L534.01,516.2M508.9,541.8L543.03,516.2M517.92,541.8L552.05,516.2M526.94,541.8L561.07,516.2M535.96,541.8L570.09,516.2M544.98,541.8L579.11,516.2M554,541.8L588.13,516.2M563.02,541.8L597.15,516.2M572.04,541.8L606.17,516.2M581.06,541.8L615.19,516.2M590.08,541.8L624.21,516.2M599.1,541.8L633.23,516.2M608.12,541.8L642.25,516.2M617.14,541.8L651.27,516.2M626.16,541.8L653.6,521.22M635.18,541.8L653.6,527.98M644.2,541.8L653.6,534.75M653.22,541.8L653.6,541.51"/>
<rect x="418.7" y="516.2" width="234.9" height="25.6" stroke-width="1"/>
</g>
<path d="M626.9,512.2L663.5,485.8H735.4" stroke="#3a2f2d" stroke-width="1.15"/>
<text class="lbl" stroke="none" x="663.6" y="482.2"><tspan letter-spacing="0.9">M10 </tspan><tspan x="687.6" letter-spacing="0.15">安装螺丝</tspan></text>
<rect x="452.5" y="512.2" width="6" height="2" fill="#fff" stroke-width="0.8"/>
<rect x="454.4" y="515.8" width="2.2" height="6.4" fill="#ddd" stroke-width="0.7"/>
<rect x="623.2" y="512.2" width="6" height="2" fill="#fff" stroke-width="0.8"/>
<rect x="625.1" y="515.8" width="2.2" height="6.4" fill="#ddd" stroke-width="0.7"/>
<path d="M433.4,390.4H437.1V409.3H433.4C432.6,409.3 432.3,408.9 432.3,408.2V391.5C432.3,390.8 432.6,390.4 433.4,390.4Z" stroke-width="0.9" fill="#fff"/>
<path d="M419.5,412.6H434.6V421.3H419.5C418.8,421.3 418.5,421 418.5,420.3V413.6C418.5,412.9 418.8,412.6 419.5,412.6Z" stroke-width="1.4" fill="#fff" stroke="#000"/>
<ellipse cx="428.7" cy="417" rx="3.5" ry="2.3" stroke="#000" stroke-width="1.1"/>
<path d="M638.8,390.4H635.1V409.3H638.8C639.6,409.3 639.9,408.9 639.9,408.2V391.5C639.9,390.8 639.6,390.4 638.8,390.4Z" stroke-width="0.9" fill="#fff"/>
<path d="M652.7,412.6H637.6V421.3H652.7C653.4,421.3 653.7,421 653.7,420.3V413.6C653.7,412.9 653.4,412.6 652.7,412.6Z" stroke-width="1.4" fill="#fff" stroke="#000"/>
<ellipse cx="643.5" cy="417" rx="3.5" ry="2.3" stroke="#000" stroke-width="1.1"/>
<path d="M435.1,399.6V514" stroke-width="2" stroke="#999"/>
<path d="M434,399.6V515M436.3,399.6V513.6" stroke-width="0.9" stroke="#000"/>
<path d="M430.8,514.9H437" stroke-width="0.9"/>
<path d="M637.6,399.6V514" stroke-width="2" stroke="#999"/>
<path d="M638.7,399.6V515M636.4,399.6V513.6" stroke-width="0.9" stroke="#000"/>
<path d="M641.4,514.9H635.2" stroke-width="0.9"/>
<path d="M434.3,514.7H637.9" stroke="#000" stroke-width="1.3"/>
<rect x="429.3" y="434.4" width="4.2" height="5.2" stroke="#000" stroke-width="1" fill="#aaa"/>
<path d="M437.4,435.6H439.4C440.6,435.6 440.6,438.3 439.4,438.3H437.4" stroke-width="0.8"/>
<path d="M439.4,387V380.5H632.8V387" stroke-width="1.2"/>
<path d="M442.4,380.5V387M629.8,380.5V387" stroke-width="0.7"/>
<rect x="439.4" y="380.5" width="3" height="6.5" fill="#999" stroke="none"/>
<rect x="629.8" y="380.5" width="3" height="6.5" fill="#999" stroke="none"/>
<path d="M438.4,386.9H633.8" stroke-width="1.6"/>
<circle cx="472.1" cy="383.7" r="0.65" fill="#000" stroke="none"/>
<circle cx="536.1" cy="383.7" r="0.65" fill="#000" stroke="none"/>
<circle cx="600.1" cy="383.7" r="0.65" fill="#000" stroke="none"/>
<path d="M458,395.6C470,397 488,401.5 506,403.2C520,404.5 548,404.8 562,403.2C580,401.5 600,397 614,395.6Z" fill="#000" stroke="#000" stroke-width="0.8"/>
<clipPath id="finclip"><path d="M462,396.3C474,397.6 490,401 506,402.4C520,403.6 548,403.9 562,402.4C578,401 598,397.6 610,396.3Z"/></clipPath>
<path d="M466.1,396.3V405M471.7,396.3V405M477.3,396.3V405M482.9,396.3V405M488.5,396.3V405M494.1,396.3V405M499.7,396.3V405M505.3,396.3V405M510.9,396.3V405M516.5,396.3V405M522.1,396.3V405M527.7,396.3V405M533.3,396.3V405M538.9,396.3V405M544.5,396.3V405M550.1,396.3V405M555.7,396.3V405M561.3,396.3V405M566.9,396.3V405M572.5,396.3V405M578.1,396.3V405M583.7,396.3V405M589.3,396.3V405M594.9,396.3V405M600.5,396.3V405M606.1,396.3V405M611.7,396.3V405" stroke="#fff" stroke-width="2.3" clip-path="url(#finclip)"/>
<path d="M438.4,395.6H633.8" stroke-width="1"/>
<path d="M438.5,386.9V401M441.4,386.9V400" stroke-width="0.9"/>
<path d="M439.1,400.6H445.5C448.6,400.6 450.2,402.4 450.2,405.5V427.9" stroke-width="1"/>
<path d="M439.1,401.6V417C439.1,419.6 440.5,421 443,421H446.6" stroke-width="1"/>
<path d="M446.6,404V425C446.6,427 447.8,428.2 450,428.2H473" stroke-width="1.1"/>
<path d="M440.2,404H446.4V413.2H440.2Z" stroke-width="0.5" fill="#aaa"/>
<path d="M450.2,419.6H504.5" stroke-width="1"/>
<path d="M633.7,386.9V401M630.8,386.9V400" stroke-width="0.9"/>
<path d="M633.1,400.6H626.7C623.6,400.6 622,402.4 622,405.5V427.9" stroke-width="1"/>
<path d="M633.1,401.6V417C633.1,419.6 631.7,421 629.2,421H625.6" stroke-width="1"/>
<path d="M625.6,404V425C625.6,427 624.4,428.2 622.2,428.2H599.2" stroke-width="1.1"/>
<path d="M632,404H625.8V413.2H632Z" stroke-width="0.5" fill="#aaa"/>
<path d="M622,419.6H567.7" stroke-width="1"/>
<path d="M472.1,428.2L474.77,428.12L477.43,427.89L480.1,427.5L482.77,426.97L485.43,426.3L488.1,425.51L490.77,424.6L493.43,423.6L496.1,422.52L498.77,421.38L501.43,420.2L504.1,419L506.77,417.8L509.43,416.62L512.1,415.48L514.77,414.4L517.43,413.4L520.1,412.49L522.77,411.7L525.43,411.03L528.1,410.5L530.77,410.11L533.43,409.88L536.1,409.8L538.77,409.88L541.43,410.11L544.1,410.5L546.77,411.03L549.43,411.7L552.1,412.49L554.77,413.4L557.43,414.4L560.1,415.48L562.77,416.62L565.43,417.8L568.1,419L570.77,420.2L573.43,421.38L576.1,422.52L578.77,423.6L581.43,424.6L584.1,425.51L586.77,426.3L589.43,426.97L592.1,427.5L594.77,427.89L597.43,428.12L600.1,428.2" stroke="#000" stroke-width="1.3"/>
<path d="M473.1,428.2L475.73,428.13L478.35,427.92L480.98,427.58L483.6,427.11L486.23,426.53L488.85,425.83L491.48,425.03L494.1,424.15L496.73,423.2L499.35,422.2L501.98,421.16L504.6,420.1L507.23,419.04L509.85,418L512.48,417L515.1,416.05L517.73,415.17L520.35,414.37L522.98,413.67L525.6,413.09L528.23,412.62L530.85,412.28L533.48,412.07L536.1,412L538.73,412.07L541.35,412.28L543.98,412.62L546.6,413.09L549.23,413.67L551.85,414.37L554.48,415.17L557.1,416.05L559.73,417L562.35,418L564.98,419.04L567.6,420.1L570.23,421.16L572.85,422.2L575.48,423.2L578.1,424.15L580.73,425.03L583.35,425.83L585.98,426.53L588.6,427.11L591.23,427.58L593.85,427.92L596.48,428.13L599.1,428.2" stroke="#000" stroke-width="1.1"/>
<path d="M474.1,428.2L476.68,428.14L479.27,427.96L481.85,427.67L484.43,427.26L487.02,426.75L489.6,426.15L492.18,425.46L494.77,424.7L497.35,423.88L499.93,423.01L502.52,422.11L505.1,421.2L507.68,420.29L510.27,419.39L512.85,418.52L515.43,417.7L518.02,416.94L520.6,416.25L523.18,415.65L525.77,415.14L528.35,414.73L530.93,414.44L533.52,414.26L536.1,414.2L538.68,414.26L541.27,414.44L543.85,414.73L546.43,415.14L549.02,415.65L551.6,416.25L554.18,416.94L556.77,417.7L559.35,418.52L561.93,419.39L564.52,420.29L567.1,421.2L569.68,422.11L572.27,423.01L574.85,423.88L577.43,424.7L580.02,425.46L582.6,426.15L585.18,426.75L587.77,427.26L590.35,427.67L592.93,427.96L595.52,428.14L598.1,428.2" stroke="#000" stroke-width="1.1"/>
<path d="M473,427.6H599.2" stroke-width="1.5"/>
<path d="M536.1,409.6V412.4" stroke-width="0.7"/>
<circle cx="536.1" cy="421.8" r="3.3" fill="#222" stroke-width="1"/>
<circle cx="536.1" cy="421.8" r="1.5" fill="#999" stroke="none"/>
<circle cx="524.7" cy="420.9" r="2" fill="#111" stroke="none"/>
<circle cx="547.5" cy="420.9" r="2" fill="#111" stroke="none"/>
<circle cx="510.7" cy="424.8" r="0.8" fill="#111" stroke="none"/>
<circle cx="516.4" cy="424.8" r="0.8" fill="#111" stroke="none"/>
<circle cx="555.9" cy="424.8" r="0.8" fill="#111" stroke="none"/>
<circle cx="561.6" cy="424.8" r="0.8" fill="#111" stroke="none"/>
</g>
</svg>
</section>
<section class="sec" style="top:580px;height:356px">
<h2><span class="sq" style="top:19px"></span><span class="cn" style="top:15.9px">配光说明</span><span class="en sl" style="left:174.1px;top:14.2px">/</span><span class="en" style="left:182px;top:17px;letter-spacing:1.63px">Light </span><span class="en" style="left:230.1px;top:17px;letter-spacing:1.54px">Specification</span></h2>
<svg style="top:0" width="1086" height="356" viewBox="0 580 1086 356" fill="none" stroke="#000" stroke-width="1">
<line x1="60" y1="628.84" x2="1024" y2="628.84" stroke="#d9d9d9" stroke-width="1" stroke-dasharray="6 3.03"/>
<g id="polar-1">
<g stroke="#000" stroke-width="1.48">
<circle cx="158" cy="754.7" r="17.8"/><circle cx="158" cy="754.7" r="35.6"/><circle cx="158" cy="754.7" r="53.4"/><circle cx="158" cy="754.7" r="71.2"/><circle cx="158" cy="754.7" r="89"/>
<path d="M158,665.7L158,843.7M162.61,771.89L181.03,840.67M166.9,770.12L202.5,831.78M170.59,767.29L220.93,817.63M173.42,763.6L235.08,799.2M175.19,759.31L243.97,777.73M69,754.7L247,754.7M175.19,750.09L243.97,731.67M173.42,745.8L235.08,710.2M170.59,742.11L220.93,691.77M166.9,739.28L202.5,677.62M162.61,737.51L181.03,668.73M153.39,737.51L134.97,668.73M149.1,739.28L113.5,677.62M145.41,742.11L95.07,691.77M142.58,745.8L80.92,710.2M140.81,750.09L72.03,731.67M140.81,759.31L72.03,777.73M142.58,763.6L80.92,799.2M145.41,767.29L95.07,817.63M149.1,770.12L113.5,831.78M153.39,771.89L134.97,840.67"/>
</g>
<g stroke="none">
<text class="pl" x="132.29" y="667.24">-165</text><text class="pl" x="109.23" y="675.73">-150</text><text class="pl" x="89.14" y="690.24">-135</text><text class="pl" x="73.67" y="709.78">-120</text><text class="pl" x="64.07" y="732.83">-105</text><text class="pl" x="62.45" y="756.5">-90</text><text class="pl" x="65.31" y="780.93">-75</text><text class="pl" x="74.66" y="802.75">-60</text><text class="pl" x="89.81" y="822.19">-45</text><text class="pl" x="109.56" y="836.8">-30</text><text class="pl" x="132.38" y="846.53">-15</text><text class="pl" x="157.1" y="848.85">0</text><text class="pl" x="181.16" y="846.3">15</text><text class="pl" x="203.81" y="836.41">30</text><text class="pl" x="223.34" y="821.74">45</text><text class="pl" x="238.26" y="802.36">60</text><text class="pl" x="247.45" y="780.71">75</text><text class="pl" x="250.25" y="756.5">90</text><text class="pl" x="248.69" y="733.06">105</text><text class="pl" x="239.26" y="710.17">120</text><text class="pl" x="224.01" y="690.69">135</text><text class="pl" x="204.14" y="676.12">150</text><text class="pl" x="181.25" y="667.46">165</text><text class="pl" x="157.1" y="663.85">180</text>
<text class="pl" x="155" y="771.6">41065</text><text class="pl" x="155" y="789.4">82130</text><text class="pl" x="155" y="807.2">123195</text><text class="pl" x="155" y="825">164260</text><text class="pl" x="155" y="842.8">205325</text>
</g>
<path d="M156.5,754.7L160.8,756.7L161,811.7L157.7,829.3L156,814.7Z" fill="#f00" stroke="none"/>
<path d="M155.6,754.4Q158,751.9 160.5,754.4L160.5,811.7C160.3,816.7 158.6,821.7 156.5,825C155.8,821.7 155.5,817.7 155.5,811.7Z" fill="#00f" stroke="none"/>
</g>
<g id="polar-2">
<g stroke="#000" stroke-width="1.48">
<circle cx="414.7" cy="754.7" r="17.8"/><circle cx="414.7" cy="754.7" r="35.6"/><circle cx="414.7" cy="754.7" r="53.4"/><circle cx="414.7" cy="754.7" r="71.2"/><circle cx="414.7" cy="754.7" r="89"/>
<path d="M414.7,665.7L414.7,843.7M419.31,771.89L437.73,840.67M423.6,770.12L459.2,831.78M427.29,767.29L477.63,817.63M430.12,763.6L491.78,799.2M431.89,759.31L500.67,777.73M325.7,754.7L503.7,754.7M431.89,750.09L500.67,731.67M430.12,745.8L491.78,710.2M427.29,742.11L477.63,691.77M423.6,739.28L459.2,677.62M419.31,737.51L437.73,668.73M410.09,737.51L391.67,668.73M405.8,739.28L370.2,677.62M402.11,742.11L351.77,691.77M399.28,745.8L337.62,710.2M397.51,750.09L328.73,731.67M397.51,759.31L328.73,777.73M399.28,763.6L337.62,799.2M402.11,767.29L351.77,817.63M405.8,770.12L370.2,831.78M410.09,771.89L391.67,840.67"/>
</g>
<g stroke="none">
<text class="pl" x="388.99" y="667.24">-165</text><text class="pl" x="365.93" y="675.73">-150</text><text class="pl" x="345.84" y="690.24">-135</text><text class="pl" x="330.37" y="709.78">-120</text><text class="pl" x="320.77" y="732.83">-105</text><text class="pl" x="319.15" y="756.5">-90</text><text class="pl" x="322.01" y="780.93">-75</text><text class="pl" x="331.36" y="802.75">-60</text><text class="pl" x="346.51" y="822.19">-45</text><text class="pl" x="366.26" y="836.8">-30</text><text class="pl" x="389.08" y="846.53">-15</text><text class="pl" x="413.8" y="848.85">0</text><text class="pl" x="437.86" y="846.3">15</text><text class="pl" x="460.51" y="836.41">30</text><text class="pl" x="480.04" y="821.74">45</text><text class="pl" x="494.96" y="802.36">60</text><text class="pl" x="504.15" y="780.71">75</text><text class="pl" x="506.95" y="756.5">90</text><text class="pl" x="505.39" y="733.06">105</text><text class="pl" x="495.96" y="710.17">120</text><text class="pl" x="480.71" y="690.69">135</text><text class="pl" x="460.84" y="676.12">150</text><text class="pl" x="437.95" y="667.46">165</text><text class="pl" x="413.8" y="663.85">180</text>
<text class="pl" x="411.7" y="771.6">25142</text><text class="pl" x="411.7" y="789.4">50284</text><text class="pl" x="411.7" y="807.2">75427</text><text class="pl" x="411.7" y="825">100569</text><text class="pl" x="411.7" y="842.8">125711</text>
</g>
<path d="M412.1,754.7L416.2,754.7L415.9,810.7C415.3,818.7 413.5,826.7 411.7,832.7C411.1,826.7 410.5,818.7 410.7,806.7Z" fill="#f00" stroke="none"/>
<path d="M411.9,754.5Q414.3,752.1 416.7,754.5L416.6,808.2Q414.1,812.3 411.7,808.2Z" fill="#00f" stroke="none"/>
</g>
<g id="polar-3">
<g stroke="#000" stroke-width="1.48">
<circle cx="671.1" cy="754.7" r="17.8"/><circle cx="671.1" cy="754.7" r="35.6"/><circle cx="671.1" cy="754.7" r="53.4"/><circle cx="671.1" cy="754.7" r="71.2"/><circle cx="671.1" cy="754.7" r="89"/>
<path d="M671.1,665.7L671.1,843.7M675.71,771.89L694.13,840.67M680,770.12L715.6,831.78M683.69,767.29L734.03,817.63M686.52,763.6L748.18,799.2M688.29,759.31L757.07,777.73M582.1,754.7L760.1,754.7M688.29,750.09L757.07,731.67M686.52,745.8L748.18,710.2M683.69,742.11L734.03,691.77M680,739.28L715.6,677.62M675.71,737.51L694.13,668.73M666.49,737.51L648.07,668.73M662.2,739.28L626.6,677.62M658.51,742.11L608.17,691.77M655.68,745.8L594.02,710.2M653.91,750.09L585.13,731.67M653.91,759.31L585.13,777.73M655.68,763.6L594.02,799.2M658.51,767.29L608.17,817.63M662.2,770.12L626.6,831.78M666.49,771.89L648.07,840.67"/>
</g>
<g stroke="none">
<text class="pl" x="645.39" y="667.24">-165</text><text class="pl" x="622.33" y="675.73">-150</text><text class="pl" x="602.24" y="690.24">-135</text><text class="pl" x="586.77" y="709.78">-120</text><text class="pl" x="577.17" y="732.83">-105</text><text class="pl" x="575.55" y="756.5">-90</text><text class="pl" x="578.41" y="780.93">-75</text><text class="pl" x="587.76" y="802.75">-60</text><text class="pl" x="602.91" y="822.19">-45</text><text class="pl" x="622.66" y="836.8">-30</text><text class="pl" x="645.48" y="846.53">-15</text><text class="pl" x="670.2" y="848.85">0</text><text class="pl" x="694.26" y="846.3">15</text><text class="pl" x="716.91" y="836.41">30</text><text class="pl" x="736.44" y="821.74">45</text><text class="pl" x="751.36" y="802.36">60</text><text class="pl" x="760.55" y="780.71">75</text><text class="pl" x="763.35" y="756.5">90</text><text class="pl" x="761.79" y="733.06">105</text><text class="pl" x="752.36" y="710.17">120</text><text class="pl" x="737.11" y="690.69">135</text><text class="pl" x="717.24" y="676.12">150</text><text class="pl" x="694.35" y="667.46">165</text><text class="pl" x="670.2" y="663.85">180</text>
<text class="pl" x="668.1" y="771.6">36038</text><text class="pl" x="668.1" y="789.4">72076</text><text class="pl" x="668.1" y="807.2">108114</text><text class="pl" x="668.1" y="825">144152</text><text class="pl" x="668.1" y="842.8">180190</text>
</g>
<path d="M671.4,752.9C673.56,752.9 674.64,755.2 674.82,760.7C675.18,774.7 675.18,796.34 674.28,813.69C673.56,821.32 672.48,824.1 671.4,824.1C670.32,824.1 669.24,821.32 668.52,813.69C667.62,796.34 667.62,774.7 667.98,760.7C668.16,755.2 669.24,752.9 671.4,752.9Z" fill="#f00" stroke="none"/>
<path d="M671.4,752.9C673.26,752.9 674.19,755.2 674.35,760.7C674.65,774.7 674.65,795.26 673.88,812.16C673.26,819.6 672.33,822.3 671.4,822.3C670.47,822.3 669.54,819.6 668.92,812.16C668.14,795.26 668.14,774.7 668.46,760.7C668.61,755.2 669.54,752.9 671.4,752.9Z" fill="#00f" stroke="none"/>
</g>
<g id="polar-4">
<g stroke="#000" stroke-width="1.48">
<circle cx="927.8" cy="754.7" r="17.8"/><circle cx="927.8" cy="754.7" r="35.6"/><circle cx="927.8" cy="754.7" r="53.4"/><circle cx="927.8" cy="754.7" r="71.2"/><circle cx="927.8" cy="754.7" r="89"/>
<path d="M927.8,665.7L927.8,843.7M932.41,771.89L950.83,840.67M936.7,770.12L972.3,831.78M940.39,767.29L990.73,817.63M943.22,763.6L1004.88,799.2M944.99,759.31L1013.77,777.73M838.8,754.7L1016.8,754.7M944.99,750.09L1013.77,731.67M943.22,745.8L1004.88,710.2M940.39,742.11L990.73,691.77M936.7,739.28L972.3,677.62M932.41,737.51L950.83,668.73M923.19,737.51L904.77,668.73M918.9,739.28L883.3,677.62M915.21,742.11L864.87,691.77M912.38,745.8L850.72,710.2M910.61,750.09L841.83,731.67M910.61,759.31L841.83,777.73M912.38,763.6L850.72,799.2M915.21,767.29L864.87,817.63M918.9,770.12L883.3,831.78M923.19,771.89L904.77,840.67"/>
</g>
<g stroke="none">
<text class="pl" x="902.09" y="667.24">-165</text><text class="pl" x="879.03" y="675.73">-150</text><text class="pl" x="858.94" y="690.24">-135</text><text class="pl" x="843.47" y="709.78">-120</text><text class="pl" x="833.87" y="732.83">-105</text><text class="pl" x="832.25" y="756.5">-90</text><text class="pl" x="835.11" y="780.93">-75</text><text class="pl" x="844.46" y="802.75">-60</text><text class="pl" x="859.61" y="822.19">-45</text><text class="pl" x="879.36" y="836.8">-30</text><text class="pl" x="902.18" y="846.53">-15</text><text class="pl" x="926.9" y="848.85">0</text><text class="pl" x="950.96" y="846.3">15</text><text class="pl" x="973.61" y="836.41">30</text><text class="pl" x="993.14" y="821.74">45</text><text class="pl" x="1008.06" y="802.36">60</text><text class="pl" x="1017.25" y="780.71">75</text><text class="pl" x="1020.05" y="756.5">90</text><text class="pl" x="1018.49" y="733.06">105</text><text class="pl" x="1009.06" y="710.17">120</text><text class="pl" x="993.81" y="690.69">135</text><text class="pl" x="973.94" y="676.12">150</text><text class="pl" x="951.05" y="667.46">165</text><text class="pl" x="926.9" y="663.85">180</text>
<text class="pl" x="924.8" y="771.6">10634</text><text class="pl" x="924.8" y="789.4">21267</text><text class="pl" x="924.8" y="807.2">31901</text><text class="pl" x="924.8" y="825">42534</text><text class="pl" x="924.8" y="842.8">53168</text>
</g>
<path d="M927.8,754.7C923.64,769.02 921.78,806.25 922.1,819.14C922.7,824.51 923.6,826.3 924.5,826.3C925.4,826.3 926.3,824.51 926.9,819.14C928.87,806.25 930.96,769.02 927.8,754.7Z" stroke="#f00" stroke-width="3" stroke-linejoin="round"/>
<path d="M927.8,754.7C924.12,768.56 924.18,804.6 925.3,817.07C925.9,822.27 926.8,824 927.7,824C928.6,824 929.5,822.27 930.1,817.07C931.26,804.6 931.44,768.56 927.8,754.7Z" stroke="#00f" stroke-width="3.5" stroke-linejoin="round"/>
</g>
<g id="captions" stroke="none">
<text class="cap" y="882.9"><tspan x="69.5" font-size="15.1" letter-spacing="1.7">平均光束角 </tspan><tspan x="156.8" letter-spacing="0.3">(50%) </tspan><tspan x="205.7">: </tspan><tspan x="212.4" letter-spacing="0.4">2.5°</tspan></text>
<text class="cap" y="882.9"><tspan x="333.4" font-size="15.1" letter-spacing="1.7">平均光束角 </tspan><tspan x="420.7" letter-spacing="0.3">(50%) </tspan><tspan x="469.6">: </tspan><tspan x="476.3" letter-spacing="0.4">3°</tspan></text>
<text class="cap" y="882.9"><tspan x="590.1" font-size="15.1" letter-spacing="1.7">平均光束角 </tspan><tspan x="677.4" letter-spacing="0.3">(50%) </tspan><tspan x="726.3">: </tspan><tspan x="733" letter-spacing="0.4">6°</tspan></text>
<text class="cap" y="882.9"><tspan x="846.4" font-size="15.1" letter-spacing="1.7">平均光束角 </tspan><tspan x="933.7" letter-spacing="0.3">(50%) </tspan><tspan x="982.6">: </tspan><tspan x="989.3" letter-spacing="0.4">8°</tspan></text>
</g>
</svg>
</section>
</body>
</html>
